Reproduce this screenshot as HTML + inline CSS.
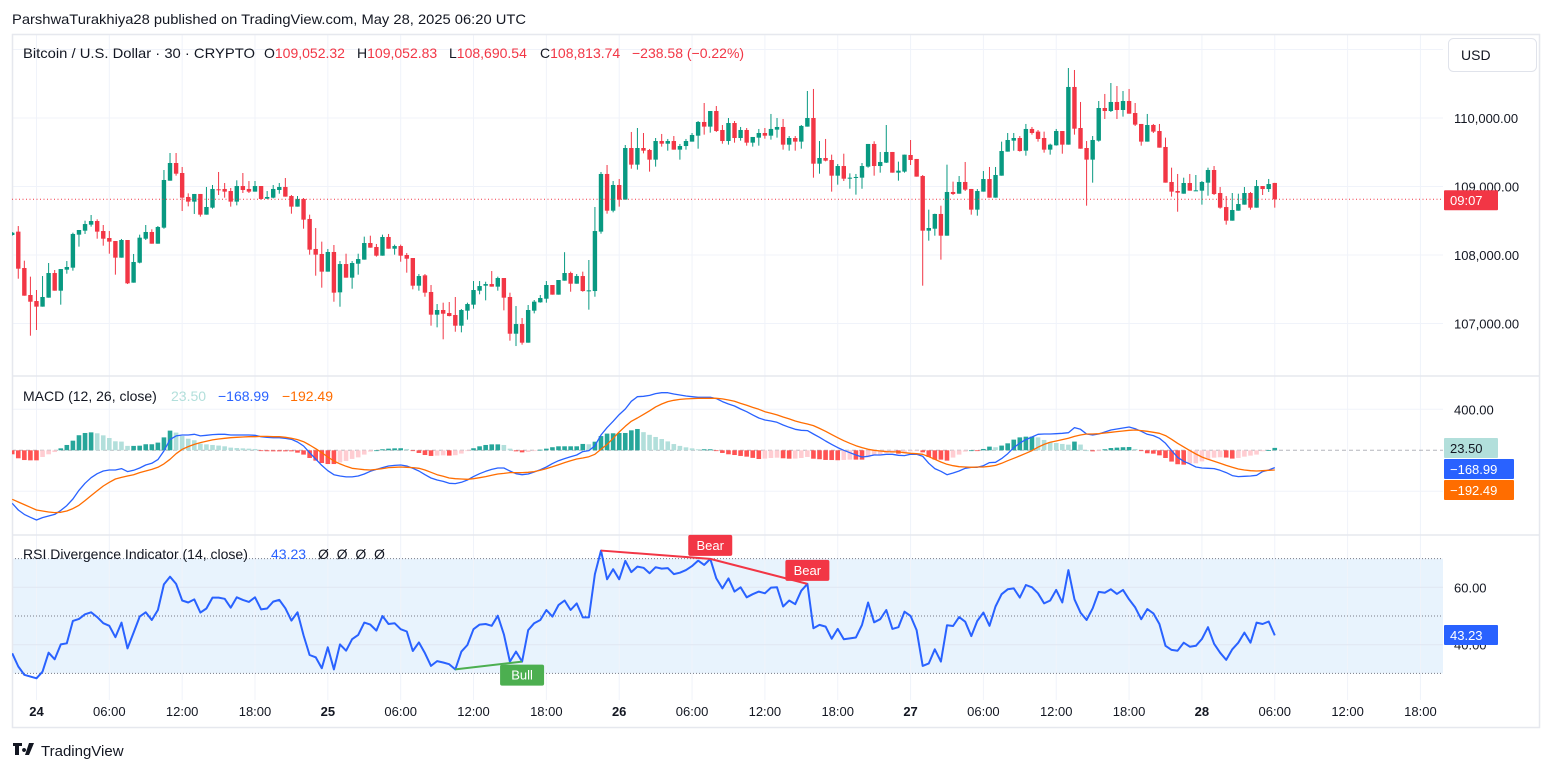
<!DOCTYPE html>
<html><head><meta charset="utf-8"><title>BTCUSD 30m chart</title>
<style>
html,body{margin:0;padding:0;background:#fff;width:1553px;height:772px;overflow:hidden;}
svg{display:block;font-family:"Liberation Sans",sans-serif;}
</style></head>
<body>
<svg id="chart" width="1553" height="772" viewBox="0 0 1553 772" xmlns="http://www.w3.org/2000/svg">
  <rect x="0" y="0" width="1553" height="772" fill="#fff"/>
  <text x="12" y="24" font-size="14" fill="#131722" textLength="514" lengthAdjust="spacingAndGlyphs">ParshwaTurakhiya28 published on TradingView.com, May 28, 2025 06:20 UTC</text>
  <g id="grid"></g>
  <g id="panels"></g>
  <g id="price-pane" clip-path="url(#plotclip)"></g>
  <g id="macd-pane" clip-path="url(#plotclip)"></g>
  <g id="rsi-pane" clip-path="url(#plotclip)"></g>
  <g id="axes"></g>
  <defs><clipPath id="plotclip"><rect x="12" y="35" width="1431" height="665"/></clipPath></defs>

  <g font-size="14">
    <text x="23" y="58" fill="#131722" textLength="232" lengthAdjust="spacingAndGlyphs">Bitcoin / U.S. Dollar · 30 · CRYPTO</text>
    <text x="264" y="58" fill="#131722">O<tspan fill="#f23645">109,052.32</tspan></text>
    <text x="357" y="58" fill="#131722">H<tspan fill="#f23645">109,052.83</tspan></text>
    <text x="449" y="58" fill="#131722">L<tspan fill="#f23645">108,690.54</tspan></text>
    <text x="540" y="58" fill="#131722">C<tspan fill="#f23645">108,813.74</tspan></text>
    <text x="632" y="58" fill="#f23645">−238.58 (−0.22%)</text>
  </g>
  <g font-size="14">
    <text x="23" y="401" fill="#131722">MACD (12, 26, close)</text>
    <text x="171" y="401" fill="#b2dfdb">23.50</text>
    <text x="218" y="401" fill="#2962ff">−168.99</text>
    <text x="282" y="401" fill="#ff6d00">−192.49</text>
  </g>
  <g font-size="14">
    <text x="23" y="559" fill="#131722">RSI Divergence Indicator (14, close)</text>
    <text x="271" y="559" fill="#2962ff">43.23</text>
    <text x="318" y="559" fill="#131722">Ø &#160;Ø &#160;Ø &#160;Ø</text>
  </g>
  <g>
    <rect x="1448.5" y="38.5" width="88" height="33" rx="5" fill="#fff" stroke="#e0e3eb"/>
    <text x="1461" y="60" font-size="14" fill="#131722">USD</text>
  </g>
  <g>
    <path d="M13 743h9v3h-3v9h-4v-9h-2z M24 748a2 2 0 1 0 0.1 0z M29 743h5l-5 12h-4z" fill="#131722"/>
    <text x="41" y="756" font-size="15" fill="#131722">TradingView</text>
  </g>
</svg>
<script>
// ===== data =====
const opens = [108292,108341,107810,107416,107328,107246,107377,107737,107479,107786,
107815,108297,108355,108443,108496,108350,108248,108204,107961,108219,
107596,107888,108238,108336,108165,108399,109085,109343,109197,108847,
108779,108891,108589,108691,108959,108964,108934,108779,109007,108964,
108925,109007,108822,108837,108949,108993,108861,108706,108818,108526,
108088,108015,107757,108044,107455,107868,107669,107873,107932,108175,
108117,107990,108263,108092,108131,108000,107956,107552,107703,107460,
107129,107197,107153,107124,106968,107187,107275,107479,107552,107576,
107538,107664,107387,106851,106992,106720,107187,107309,107362,107562,
107421,107625,107737,107581,107693,107484,107474,108341,109183,108647,
109022,108808,109562,109319,109562,109533,109392,109664,109625,109664,
109538,109591,109655,109742,109942,109874,110102,109825,109664,109927,
109708,109825,109640,109713,109781,109742,109830,109869,109611,109708,
109655,109874,110000,109333,109416,109387,109158,109299,109114,109129,
109129,109290,109621,109299,109348,109504,109202,109217,109460,109402,
109153,108355,108384,108599,108282,108920,108895,109066,108964,108662,
108925,109109,108837,109158,109509,109669,109708,109523,109840,109801,
109708,109538,109601,109810,109611,110453,109854,109562,109392,109669,
110146,110102,110234,110117,110248,110073,109913,109655,109898,109810,
109577,109066,108934,108895,109051,108944,108939,109056,109241,108905,
108700,108501,108647,108735,108905,108691,109007,108963,109052];
const closes = [108326,107800,107406,107318,107246,107387,107737,107479,107795,107825,
108307,108365,108452,108496,108341,108238,108195,107961,108219,107586,
107898,108253,108336,108165,108409,109095,109343,109187,108837,108779,
108891,108589,108701,108964,108949,108925,108779,109007,108949,108925,
109007,108818,108847,108964,108993,108852,108706,108818,108516,108078,
108005,107757,108044,107450,107868,107669,107883,107941,108175,108107,
107990,108263,108092,108131,107990,107946,107552,107693,107450,107129,
107197,107143,107109,106968,107197,107284,107489,107547,107576,107538,
107664,107377,106851,106992,106720,107197,107319,107372,107562,107421,
107635,107737,107581,107693,107474,107484,108350,109183,108647,109022,
108808,109562,109319,109562,109523,109392,109664,109625,109664,109538,
109591,109664,109752,109942,109874,110102,109810,109664,109927,109708,
109825,109640,109723,109781,109742,109840,109869,109611,109708,109655,
109884,110000,109333,109416,109377,109158,109299,109114,109129,109139,
109299,109621,109299,109358,109504,109202,109231,109465,109387,109144,
108355,108394,108599,108282,108920,108891,109066,108954,108662,108934,
109109,108837,109168,109518,109679,109708,109518,109840,109781,109694,
109538,109611,109810,109611,110453,109844,109552,109392,109679,110146,
110102,110234,110117,110248,110063,109903,109655,109898,109801,109567,
109056,108925,108910,109051,108939,108944,109066,109241,108890,108691,
108501,108657,108744,108905,108691,109007,108963,109036,108814];
const highs = [108336,108423,107917,107684,107489,107693,107883,107781,107795,107912,
108326,108365,108501,108584,108521,108438,108350,108204,108234,108219,
108015,108297,108438,108375,108423,109241,109489,109489,109285,108900,
108891,108891,108993,109022,109212,109051,108978,109090,109197,109080,
109080,109007,108934,109022,109051,109124,108876,108861,108832,108589,
108394,108195,108088,108146,107912,108019,107912,108019,108268,108282,
108161,108297,108307,108151,108151,108029,107956,107722,107722,107562,
107284,107304,107314,107387,107211,107304,107620,107620,107610,107766,
107684,107664,107450,107255,107080,107270,107343,107416,107620,107562,
107635,108041,107757,107722,107757,107927,108701,109212,109314,109080,
109110,109606,109796,109854,109781,109548,109708,109767,109694,109737,
109621,109694,109781,109956,110219,110102,110175,109898,110000,109956,
109869,109854,109723,109840,109854,110059,110000,109986,109737,109737,
109898,110394,110424,109664,109694,109465,109328,109479,109192,109183,
109343,109621,109660,109504,109898,109504,109363,109465,109679,109402,
109168,108662,108603,108720,109319,109071,109153,109358,108964,108963,
109226,109285,109285,109655,109781,109781,109737,109913,109869,109825,
109801,109625,109840,109810,110730,110701,110234,109664,109737,110248,
110351,110511,110467,110394,110424,110219,109913,110059,109913,109913,
109713,109275,109183,109129,109183,109168,109080,109275,109299,108993,
108861,108905,108895,108993,108920,109095,109007,109110,109053];
const lows = [108282,107654,107406,106822,106905,107246,107377,107479,107275,107727,
107771,108122,108307,108414,108238,108136,108019,107713,107961,107576,
107596,107878,108219,108165,108165,108384,109085,109158,108642,108710,
108599,108560,108589,108676,108876,108837,108706,108725,108905,108905,
108925,108803,108818,108827,108895,108852,108603,108706,108384,108005,
107698,107523,107757,107318,107245,107669,107508,107713,107932,108107,
107976,107990,108092,108005,107902,107742,107499,107479,107391,106968,
106944,106769,107104,106880,106871,107056,107216,107426,107338,107538,
107479,107192,106749,106671,106691,106720,107148,107304,107304,107421,
107421,107625,107464,107581,107464,107202,107391,108311,108603,108623,
108706,108808,109260,109246,109484,109217,109290,109582,109523,109538,
109392,109538,109655,109552,109757,109786,109796,109625,109611,109640,
109669,109596,109582,109596,109698,109684,109713,109538,109523,109523,
109552,109874,109129,109187,109367,108925,109027,109080,108968,108881,
108968,109275,109158,109202,109343,109202,109085,109202,109314,109144,
107552,108209,108282,107932,108282,108876,108895,108934,108589,108574,
108925,108837,108837,109158,109509,109523,109509,109450,109757,109655,
109494,109465,109596,109479,109611,109757,109552,108720,109056,109655,
109986,110088,109986,110020,110063,109883,109596,109655,109781,109567,
109056,108852,108632,108895,108939,108939,108735,108866,108876,108676,
108443,108501,108647,108735,108662,108691,108876,108920,108691];
const macdLine = [-517,-582,-625,-654,-680,-657,-641,-625,-586,-540,
-475,-390,-322,-267,-228,-202,-192,-192,-179,-208,
-195,-173,-143,-127,-91,-7,104,140,149,149,
156,140,146,153,156,156,149,149,149,149,
146,133,127,123,123,117,107,81,42,-23,
-85,-147,-199,-238,-251,-260,-260,-251,-231,-205,
-186,-169,-153,-147,-143,-153,-176,-202,-238,-270,
-290,-303,-322,-325,-312,-290,-257,-228,-205,-186,
-173,-173,-202,-228,-238,-231,-212,-189,-163,-130,
-101,-81,-62,-46,-13,-3,45,149,221,283,
348,403,478,523,527,536,553,562,562,549,
540,530,523,517,517,517,504,475,452,432,
403,377,345,315,296,286,273,247,224,205,
195,192,159,127,91,58,26,0,-23,-46,
-65,-59,-46,-46,-39,-39,-49,-52,-39,-39,
-59,-127,-179,-205,-238,-221,-202,-176,-166,-166,
-150,-120,-117,-81,-33,26,71,104,130,156,
159,159,162,166,172,221,205,159,149,159,
179,198,208,218,227,211,185,156,143,117,
68,-3,-68,-107,-133,-163,-173,-176,-179,-195,
-218,-247,-257,-254,-251,-244,-208,-192,-168.99];
const signalLine = [-478,-504,-530,-556,-582,-592,-602,-608,-605,-592,
-569,-537,-491,-442,-394,-348,-312,-280,-264,-251,
-238,-218,-202,-186,-166,-133,-88,-33,10,36,
58,75,88,101,110,117,123,127,130,133,
133,136,136,133,133,127,117,104,84,52,
16,-23,-65,-104,-133,-156,-176,-182,-189,-192,
-186,-179,-169,-166,-163,-166,-169,-176,-192,-215,
-238,-254,-270,-277,-280,-283,-277,-267,-257,-244,
-231,-225,-218,-218,-218,-215,-208,-195,-179,-160,
-140,-120,-101,-85,-75,-62,-39,10,58,117,
179,234,283,315,350,385,423,452,475,488,
497,501,504,507,507,507,507,501,491,478,
458,439,419,400,377,361,345,325,306,286,
270,257,241,214,185,153,123,94,68,45,
26,10,0,-7,-13,-16,-16,-23,-29,-33,
-39,-62,-88,-114,-137,-150,-160,-163,-166,-163,
-163,-156,-147,-127,-101,-78,-55,-29,-3,30,
58,78,91,104,117,136,149,159,159,162,
169,176,182,188,195,198,192,185,176,166,
143,107,68,33,-3,-36,-65,-88,-107,-127,
-147,-166,-182,-192,-199,-202,-199,-195,-192.49];
const rsiValues = [37.0,32.4,29.5,28.9,28.3,30.6,37.2,34.9,40.1,40.5,
48.3,49.0,50.6,51.3,49.6,47.5,46.6,42.6,47.7,38.7,
44.2,49.8,51.3,48.6,52.1,61.0,63.7,61.2,55.4,54.7,
55.8,51.2,52.6,56.4,56.4,56.0,52.9,56.5,55.6,54.9,
56.5,52.3,52.6,55.0,55.6,52.7,48.4,51.3,43.2,36.4,
35.6,31.8,39.1,31.4,40.1,37.9,41.9,43.4,47.7,47.0,
44.9,50.0,47.2,47.5,45.4,44.6,37.8,40.8,37.0,32.6,
34.3,33.8,33.2,31.4,37.6,39.9,45.4,47.0,47.2,46.6,
50.1,43.6,34.1,37.6,34.1,45.1,47.5,48.6,52.1,49.8,
53.8,55.4,52.1,54.4,49.5,49.5,64.6,72.8,62.8,66.3,
62.8,69.2,65.3,67.2,66.8,64.9,67.0,66.5,66.7,64.6,
65.1,66.0,67.4,69.3,67.8,69.9,63.1,59.6,63.1,58.5,
60.0,56.5,57.6,58.5,57.9,59.9,60.0,53.3,55.4,54.1,
58.8,61.2,45.7,46.9,46.3,42.1,45.5,41.9,42.2,42.5,
46.9,54.7,47.8,48.9,52.1,45.5,46.1,51.5,50.0,45.1,
32.6,33.5,38.4,34.1,46.8,46.5,49.6,48.0,43.0,48.3,
51.2,46.6,53.3,57.6,59.3,59.6,56.4,60.8,60.0,57.9,
54.4,55.4,59.1,54.7,66.0,55.8,51.2,48.6,52.7,58.4,
58.1,59.3,57.7,59.1,55.8,53.0,48.9,52.4,50.9,47.2,
39.6,38.2,37.9,40.7,39.3,39.6,42.0,46.1,40.3,37.2,
34.7,38.4,40.7,44.2,40.7,47.7,47.2,48.1,43.23];
const divergences = [
  {type:'Bull', from:73, to:84},
  {type:'Bear', from:97, to:115},
  {type:'Bear', from:115, to:131}
];
const priceTicks = [111000,110000,109000,108000,107000];
const macdTicks = [400,-400];
const rsiTicks = [60,40];
const rsiBands = [70,50,30];
const timeLabels = ['24','06:00','12:00','18:00','25','06:00','12:00','18:00','26','06:00','12:00','18:00','27','06:00','12:00','18:00','28','06:00','12:00','18:00'];
const timeLabelIndex = [4,16,28,40,52,64,76,88,100,112,124,136,148,160,172,184,196,208,220,232];

// ===== scales =====
const NS = 'http://www.w3.org/2000/svg';
const xOf = i => 12.2 + 6.07 * i;
const yPrice = p => 118 + (110000 - p) * 0.0685;
const yMacd = v => 450.3 - v * 0.1025;
const yRsi = v => 616 - (v - 50) * 2.87;
const PLOT_R = 1443;

function mk(tag, attrs, parent) {
  const e = document.createElementNS(NS, tag);
  for (const k in attrs) e.setAttribute(k, attrs[k]);
  parent.appendChild(e);
  return e;
}
const grid = document.getElementById('grid');
const panels = document.getElementById('panels');
const pricePane = document.getElementById('price-pane');
const macdPane = document.getElementById('macd-pane');
const rsiPane = document.getElementById('rsi-pane');
const axes = document.getElementById('axes');

const band = mk('rect', {x:12, y:yRsi(rsiBands[0]), width:PLOT_R-12, height:yRsi(rsiBands[2])-yRsi(rsiBands[0]), fill:'#e8f3fd'}, grid);



timeLabelIndex.forEach((idx, k) => {
  const x = xOf(idx);
  mk('line', {x1:x, x2:x, y1:35, y2:700, stroke:'#f0f3fa', 'stroke-width':1}, grid);
  const t = mk('text', {x:x, y:716, 'font-size':13, fill:'#131722', 'text-anchor':'middle', 'font-weight': /:/.test(timeLabels[k]) ? 'normal' : 'bold'}, axes);
  t.textContent = timeLabels[k];
  
  
});
priceTicks.forEach(p => {
  const y = yPrice(p);
  mk('line', {x1:12, x2:PLOT_R, y1:y, y2:y, stroke:'#f0f3fa'}, grid);
  if (y > 80) {
    const t = mk('text', {x:1454, y:y+5, 'font-size':13, fill:'#131722'}, axes);
    t.textContent = p.toLocaleString('en-US', {minimumFractionDigits:2});
    
    
  }
});
macdTicks.forEach(v => {
  const y = yMacd(v);
  mk('line', {x1:12, x2:PLOT_R, y1:y, y2:y, stroke:'#f0f3fa'}, grid);
  if (v > 0) {
    const t = mk('text', {x:1454, y:y+5, 'font-size':13, fill:'#131722'}, axes);
    t.textContent = v.toFixed(2);
    
    
  }
});
mk('line', {x1:12, x2:PLOT_R, y1:yMacd(0), y2:yMacd(0), stroke:'#9598a1', 'stroke-dasharray':'4 3', 'stroke-opacity':0.7}, grid);
rsiTicks.forEach(v => {
  const y = yRsi(v);
  mk('line', {x1:12, x2:PLOT_R, y1:y, y2:y, stroke:'#dfe6f2'}, grid);
  const t = mk('text', {x:1454, y:y+5, 'font-size':13, fill:'#131722'}, axes);
  t.textContent = v.toFixed(2);
  
  
});
rsiBands.forEach(v => {
  const y = yRsi(v);
  mk('line', {x1:12, x2:PLOT_R, y1:y, y2:y, stroke:'#787b86', 'stroke-dasharray':'1 2'}, grid);
});

mk('rect', {x:12.5, y:34.5, width:1527, height:693, fill:'none', stroke:'#e6e8ee', 'stroke-width':1.5}, panels);
mk('line', {x1:12, x2:1540, y1:376, y2:376, stroke:'#e6e8ee', 'stroke-width':1.5}, panels);
mk('line', {x1:12, x2:1540, y1:535, y2:535, stroke:'#e6e8ee', 'stroke-width':1.5}, panels);

const UP = '#089981', DN = '#f23645';
for (let i = 0; i < closes.length; i++) {
  const x = xOf(i);
  const col = closes[i] >= opens[i] ? UP : DN;
  const g = mk('g', {}, pricePane);
  
  
  mk('line', {x1:x, x2:x, y1:yPrice(highs[i]), y2:yPrice(lows[i]), stroke:col, 'stroke-width':1}, g);
  const y1 = yPrice(Math.max(opens[i], closes[i])), y2 = yPrice(Math.min(opens[i], closes[i]));
  mk('rect', {x:x-2.2, y:y1, width:4.4, height:Math.max(1, y2-y1), fill:col}, g);
}
const lastY = yPrice(closes[closes.length-1]);
mk('line', {x1:12, x2:PLOT_R, y1:lastY, y2:lastY, stroke:DN, 'stroke-dasharray':'1 2.5'}, pricePane);

let prevH = 0;
for (let i = 0; i < macdLine.length; i++) {
  const h = macdLine[i] - signalLine[i];
  let col;
  if (h >= 0) col = h >= prevH ? '#26a69a' : '#b2dfdb';
  else col = h <= prevH ? '#ff5252' : '#ffcdd2';
  prevH = h;
  const y0 = yMacd(0), y1 = yMacd(h);
  const r = mk('rect', {x:xOf(i)-2.3, y:Math.min(y0,y1), width:4.6, height:Math.max(0.8, Math.abs(y1-y0)), fill:col}, macdPane);
  
  
}
function poly(arr, yf, color, w, parent, name) {
  const pts = arr.map((v, i) => xOf(i).toFixed(1) + ',' + yf(v).toFixed(1)).join(' ');
  const p = mk('polyline', {points:pts, fill:'none', stroke:color, 'stroke-width':w, 'stroke-linejoin':'round'}, parent);
  
  
}
poly(macdLine, yMacd, '#2962ff', 1.3, macdPane, 'macd-line');
poly(signalLine, yMacd, '#ff6d00', 1.3, macdPane, 'signal-line');

poly(rsiValues, yRsi, '#2962ff', 2, rsiPane, 'rsi-line');
divergences.forEach(d => {
  const col = d.type === 'Bull' ? '#4caf50' : '#f23645';
  const l = mk('line', {x1:xOf(d.from), y1:yRsi(rsiValues[d.from]), x2:xOf(d.to), y2:yRsi(rsiValues[d.to]), stroke:col, 'stroke-width':2}, rsiPane);
  
  
});
const labelLayer = mk('g', {}, document.getElementById('chart'));
divergences.forEach(d => {
  const col = d.type === 'Bull' ? '#4caf50' : '#f23645';
  const x = xOf(d.to), y = yRsi(rsiValues[d.to]);
  const by = d.type === 'Bull' ? y + 3 : y - 24;
  const g = mk('g', {}, labelLayer);
  
  
  mk('rect', {x:x-22, y:by, width:44, height:21, rx:2, fill:col}, g);
  const t = mk('text', {x:x, y:by+15, 'font-size':13, fill:'#fff', 'text-anchor':'middle'}, g);
  t.textContent = d.type;
});

function tag(y, w, bg, fg, txt, name) {
  const g = mk('g', {}, axes);
  
  
  mk('rect', {x:1444, y:y-10, width:w, height:20, fill:bg, rx:1}, g);
  const t = mk('text', {x:1450, y:y+5, 'font-size':13, fill:fg}, g);
  t.textContent = txt;
}
tag(lastY+1, 54, '#f23645', '#fff', '09:07', 'last-price-tag');
tag(448, 54, '#b2dfdb', '#131722', (macdLine[macdLine.length-1]-signalLine[signalLine.length-1]).toFixed(2), 'histogram-tag');
tag(469, 70, '#2962ff', '#fff', '−' + Math.abs(macdLine[macdLine.length-1]).toFixed(2), 'macd-tag');
tag(490, 70, '#ff6d00', '#fff', '−' + Math.abs(signalLine[signalLine.length-1]).toFixed(2), 'signal-tag');
tag(635, 54, '#2962ff', '#fff', rsiValues[rsiValues.length-1].toFixed(2), 'rsi-tag');
</script>
</body></html>
